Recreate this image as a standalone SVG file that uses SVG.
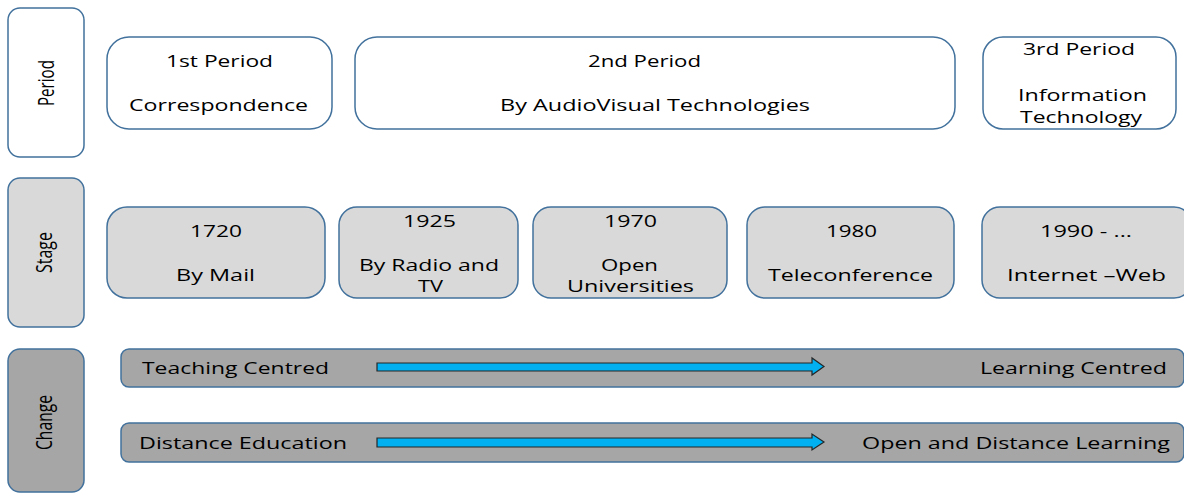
<svg xmlns="http://www.w3.org/2000/svg" width="1184" height="494" viewBox="0 0 1184 494">
  <style>
    .box { stroke: #41719c; stroke-width: 1.5; }
    .white { fill: #ffffff; }
    .light { fill: #d9d9d9; }
    .dark { fill: #a6a6a6; }
    text { font-family: "Open Sans", "Liberation Sans", sans-serif; font-size: 17px; fill: #000000; }
    .mid { text-anchor: middle; }
    .side { font-size: 21px; text-anchor: middle; }
    .arrow { fill: #00b0f0; stroke: #262626; stroke-width: 1.2; }
  </style>

  <!-- Row headers -->
  <g id="hdr-period">
    <rect class="box white" x="8" y="8" width="76" height="149" rx="12"/>
    <text class="side" transform="translate(54,83) rotate(-90)" textLength="46" lengthAdjust="spacingAndGlyphs">Period</text>
  </g>
  <g id="hdr-stage">
    <rect class="box light" x="8" y="178" width="76" height="149" rx="12"/>
    <text class="side" transform="translate(52,252.5) rotate(-90)" textLength="41" lengthAdjust="spacingAndGlyphs">Stage</text>
  </g>
  <g id="hdr-change">
    <rect class="box dark" x="8" y="349" width="76" height="143" rx="12"/>
    <text class="side" transform="translate(52,422.5) rotate(-90)" textLength="55" lengthAdjust="spacingAndGlyphs">Change</text>
  </g>

  <!-- Periods -->
  <g id="period-1">
    <rect class="box white" x="107" y="37" width="225" height="92" rx="22"/>
    <text class="mid" x="219.5" y="67" textLength="107" lengthAdjust="spacingAndGlyphs">1st Period</text>
    <text class="mid" x="218.5" y="111" textLength="179" lengthAdjust="spacingAndGlyphs">Correspondence</text>
  </g>
  <g id="period-2">
    <rect class="box white" x="355" y="37" width="600" height="92" rx="22"/>
    <text class="mid" x="644.5" y="67" textLength="113" lengthAdjust="spacingAndGlyphs">2nd Period</text>
    <text class="mid" x="655" y="111" textLength="310" lengthAdjust="spacingAndGlyphs">By AudioVisual Technologies</text>
  </g>
  <g id="period-3">
    <rect class="box white" x="983" y="37" width="193" height="92" rx="20"/>
    <text class="mid" x="1079" y="55" textLength="112" lengthAdjust="spacingAndGlyphs">3rd Period</text>
    <text class="mid" x="1082.5" y="101" textLength="129" lengthAdjust="spacingAndGlyphs">Information</text>
    <text class="mid" x="1081" y="123" textLength="122" lengthAdjust="spacingAndGlyphs">Technology</text>
  </g>

  <!-- Stages -->
  <g id="stage-1720">
    <rect class="box light" x="107" y="207" width="218" height="91" rx="20"/>
    <text class="mid" x="216" y="237" textLength="52" lengthAdjust="spacingAndGlyphs">1720</text>
    <text class="mid" x="215.5" y="281" textLength="79" lengthAdjust="spacingAndGlyphs">By Mail</text>
  </g>
  <g id="stage-1925">
    <rect class="box light" x="339" y="207" width="179" height="91" rx="18"/>
    <text class="mid" x="429.5" y="227" textLength="53" lengthAdjust="spacingAndGlyphs">1925</text>
    <text class="mid" x="429" y="271" textLength="140" lengthAdjust="spacingAndGlyphs">By Radio and</text>
    <text class="mid" x="430.5" y="292" textLength="25" lengthAdjust="spacingAndGlyphs">TV</text>
  </g>
  <g id="stage-1970">
    <rect class="box light" x="533" y="207" width="194" height="91" rx="18"/>
    <text class="mid" x="630.5" y="227" textLength="53" lengthAdjust="spacingAndGlyphs">1970</text>
    <text class="mid" x="629.5" y="271" textLength="57" lengthAdjust="spacingAndGlyphs">Open</text>
    <text class="mid" x="630.5" y="292" textLength="127" lengthAdjust="spacingAndGlyphs">Universities</text>
  </g>
  <g id="stage-1980">
    <rect class="box light" x="747" y="207" width="207" height="91" rx="18"/>
    <text class="mid" x="851.5" y="237" textLength="51" lengthAdjust="spacingAndGlyphs">1980</text>
    <text class="mid" x="850.5" y="281" textLength="165" lengthAdjust="spacingAndGlyphs">Teleconference</text>
  </g>
  <g id="stage-1990">
    <rect class="box light" x="982" y="207" width="210" height="91" rx="18"/>
    <text class="mid" x="1086" y="237" textLength="92" lengthAdjust="spacingAndGlyphs">1990 - ...</text>
    <text class="mid" x="1086.5" y="281" textLength="159" lengthAdjust="spacingAndGlyphs">Internet –Web</text>
  </g>

  <!-- Shift bands -->
  <g id="band-teaching">
    <rect class="box dark" x="121" y="349" width="1063" height="38" rx="8"/>
    <text x="142" y="374" textLength="187" lengthAdjust="spacingAndGlyphs">Teaching Centred</text>
    <text x="980" y="374" textLength="187" lengthAdjust="spacingAndGlyphs">Learning Centred</text>
  </g>
  <g id="band-distance">
    <rect class="box dark" x="121" y="423" width="1063" height="39" rx="8"/>
    <text x="139" y="449" textLength="208" lengthAdjust="spacingAndGlyphs">Distance Education</text>
    <text x="862" y="449" textLength="308" lengthAdjust="spacingAndGlyphs">Open and Distance Learning</text>
  </g>

  <!-- Connectors -->
  <g id="connectors">
    <path class="arrow" d="M377,363 H812 V358 L824,366.5 L812,375 V371 H377 Z"/>
    <path class="arrow" d="M377,438 H812 V434 L824,442 L812,450 V447 H377 Z"/>
  </g>
</svg>
